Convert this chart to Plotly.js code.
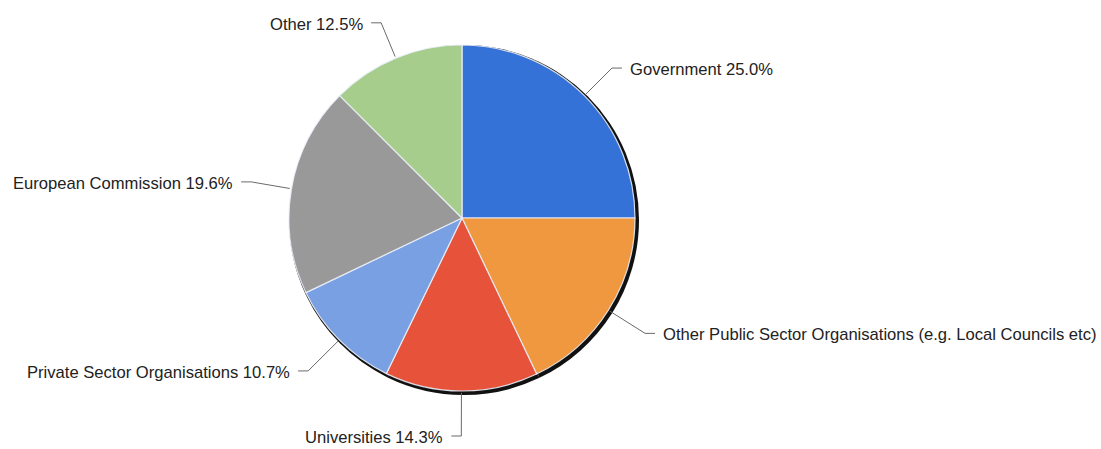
<!DOCTYPE html>
<html><head><meta charset="utf-8">
<script src="https://cdn.plot.ly/plotly-3.0.1.min.js"></script>
<style>html,body{margin:0;padding:0;background:#fff}#chart{width:1101px;height:449px}</style>
</head><body><div id="chart"></div>
<script>
const categories = ["Government","Other Public Sector Organisations (e.g. Local Councils etc)","Universities","Private Sector Organisations","European Commission","Other"];
const values = [25.0, 17.9, 14.3, 10.7, 19.6, 12.5];
const colors = ["#3572d8","#f0983f","#e6533a","#78a0e2","#999999","#a6cd8c"];

const W = 1101, H = 449;
const cx = 462, cy = 218, R = 173;
const px = x => x / W, py = y => 1 - y / H;

const total = values.reduce((a,b)=>a+b,0);
const shapes = [], annotations = [];
let acc = 0;
values.forEach((v,i) => {
  const mid = (acc + v/2) / total * 2 * Math.PI; acc += v;
  const s = Math.sin(mid), c = Math.cos(mid);
  const x0 = cx + R*1.01*s, y0 = cy - R*1.01*c;
  const re = 211 + 7*(1 - c)/2;
  const x1 = cx + re*s, y1 = cy - re*c;
  const right = s > 0.001;
  const dir = right ? 1 : -1;
  const x2 = x1 + dir*10;
  shapes.push({type:'path', xref:'paper', yref:'paper',
    path:`M ${px(x0)},${py(y0)} L ${px(x1)},${py(y1)} L ${px(x2)},${py(y1)}`,
    line:{color:'#6a6a6a', width:1}});
  annotations.push({xref:'paper', yref:'paper', x:px(x2 + dir*6), y:py(y1 + 1.5), showarrow:false,
    xanchor: right ? 'left' : 'right', yanchor:'middle',
    text: (i===1 ? categories[i] : categories[i] + ' ' + v.toFixed(1) + '%'),
    font:{family:'"Liberation Sans", Arial, sans-serif', size:16.6, color:'#222'}});
});

const shadow = {type:'pie', values: values, sort:false, direction:'clockwise', rotation:0,
  marker:{colors: values.map(()=>'#111'), line:{width:0}}, textinfo:'none', hoverinfo:'skip',
  showlegend:false, domain:{x:[(cx+2-R-2)/W,(cx+2+R+2)/W], y:[1-(cy+2+R+2)/H, 1-(cy+2-R-2)/H]}};
const pie = {type:'pie', labels: categories, values: values, sort:false, direction:'clockwise', rotation:0,
  marker:{colors: colors, line:{color:'rgba(235,240,250,0.9)', width:1.2}}, textinfo:'none',
  showlegend:false, domain:{x:[(cx-R)/W,(cx+R)/W], y:[1-(cy+R)/H, 1-(cy-R)/H]}};

Plotly.newPlot('chart', [shadow, pie], {
  width: W, height: H, margin:{l:0,r:0,t:0,b:0}, paper_bgcolor:'#fff', showlegend:false,
  shapes: shapes, annotations: annotations
}, {displayModeBar:false, staticPlot:true});
</script></body></html>
